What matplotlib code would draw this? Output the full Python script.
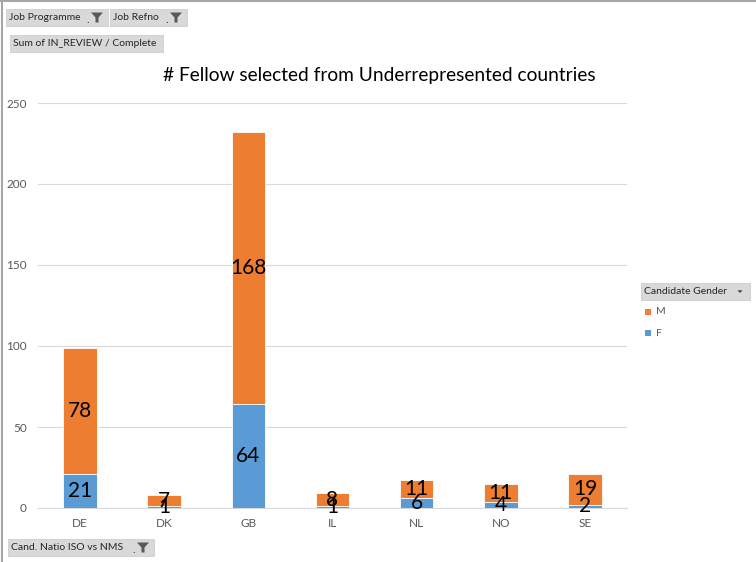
import matplotlib.pyplot as plt
from matplotlib.patches import Rectangle, Polygon
from matplotlib.lines import Line2D

# data
countries = ["DE", "DK", "GB", "IL", "NL", "NO", "SE"]
female = [21, 1, 64, 1, 6, 4, 2]
male = [78, 7, 168, 8, 11, 11, 19]

blue = "#5B9BD5"
orange = "#ED7D31"
plt.rcParams['font.family'] = ['Lato', 'DejaVu Sans']

W, H = 756, 562
fig = plt.figure(figsize=(W / 100, H / 100), dpi=100)


def fx(x):
    return x / W


def fy(y):
    return 1 - y / H


ax = fig.add_axes([fx(38), fy(508), fx(627) - fx(38), fy(103) - fy(508)])
xs = range(len(countries))
b1 = ax.bar(xs, female, width=0.4, color=blue, edgecolor="white", linewidth=0.6, label="F", zorder=3)
b2 = ax.bar(xs, male, width=0.4, bottom=female, color=orange, edgecolor="white", linewidth=0.6,
            label="M", zorder=3)
ax.bar_label(b1, label_type="center", fontsize=15, color="black")
ax.bar_label(b2, label_type="center", fontsize=15, color="black")

ax.set_xlim(-0.5, len(countries) - 0.5)
ax.set_ylim(0, 250)
ax.set_yticks(range(0, 251, 50))
ax.set_xticks(list(xs))
ax.set_xticklabels(countries)
ax.grid(axis="y", color="#D9D9D9", linewidth=0.8, zorder=0)
for s in ["top", "right", "left"]:
    ax.spines[s].set_visible(False)
ax.spines["bottom"].set_color("#D9D9D9")
ax.tick_params(axis="both", length=0, colors="#595959", labelsize=8.5)
ax.tick_params(axis="x", pad=7)
ax.tick_params(axis="y", pad=8)

fig.text(fx(379), fy(75), "# Fellow selected from Underrepresented countries", ha="center", va="center",
         fontsize=13.8, color="black")

# frame lines at top and left
fig.add_artist(Line2D([0, 1], [fy(0.8), fy(0.8)], color="#A6A6A6", lw=1.5))
fig.add_artist(Line2D([fx(1.5), fx(1.5)], [0, 1], color="#A6A6A6", lw=1.5))


def button(x0, y0, x1, y1, text, funnel=False, arrow=False):
    fig.add_artist(Rectangle((fx(x0), fy(y1)), fx(x1) - fx(x0), fy(y0) - fy(y1),
                             facecolor="#D9D9D9", edgecolor="#C8C8C8", lw=0.5))
    fig.text(fx(x0 + 3), fy((y0 + y1) / 2), text, ha="left", va="center", fontsize=7.5, color="#262626")
    if funnel:
        cx = x1 - 11
        cy = (y0 + y1) / 2
        fig.add_artist(Polygon([(fx(cx - 6), fy(cy - 5)), (fx(cx + 6), fy(cy - 5)), (fx(cx + 1.5), fy(cy)),
                                (fx(cx + 1.5), fy(cy + 5)), (fx(cx - 1.5), fy(cy + 5)), (fx(cx - 1.5), fy(cy))],
                               closed=True, facecolor="#595959", edgecolor="none"))
        fig.text(fx(cx - 9), fy(cy + 2), ".", ha="center", va="center", fontsize=8, color="#404040")
    if arrow:
        cx = x1 - 10
        cy = (y0 + y1) / 2
        fig.add_artist(Polygon([(fx(cx - 2.5), fy(cy - 1.2)), (fx(cx + 2.5), fy(cy - 1.2)), (fx(cx), fy(cy + 1.5))],
                               closed=True, facecolor="#404040", edgecolor="none"))


button(6, 9, 108, 26, "Job Programme", funnel=True)
button(110, 9, 187, 26, "Job Refno", funnel=True)
button(10, 35, 163, 52, "Sum of IN_REVIEW / Complete")
button(8, 539, 154, 556, "Cand. Natio ISO vs NMS", funnel=True)
button(641, 283, 750, 300, "Candidate Gender", arrow=True)

# legend entries
for yy, col, lab in [(312, orange, "M"), (333, blue, "F")]:
    fig.add_artist(Rectangle((fx(645), fy(yy + 3)), fx(6), fy(0) - fy(6), facecolor=col, edgecolor="none"))
    fig.text(fx(656), fy(yy), lab, ha="left", va="center", fontsize=7.5, color="#595959")

fig.savefig("out.png", dpi=100)
